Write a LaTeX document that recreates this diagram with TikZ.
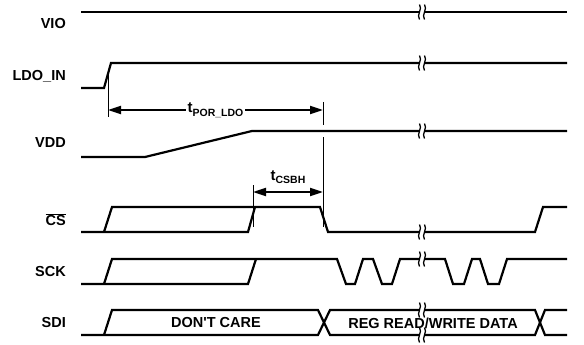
\documentclass[tikz,border=0pt]{standalone}
\usepackage{fontspec}
\setmainfont{Liberation Sans}
\usetikzlibrary{arrows.meta}
% break mark on a signal line
\newcommand{\brk}[2]{%
  \fill[white] (#1-2.5,#2-2.4) rectangle (#1+2.5,#2+2.4);
  \draw[bk] (#1-2.5,#2-7.5) .. controls (#1+1,#2-3) and (#1-6,#2+3) .. (#1-2.5,#2+7.5);
  \draw[bk] (#1+2.5,#2-7.5) .. controls (#1+6,#2-3) and (#1-1,#2+3) .. (#1+2.5,#2+7.5);}

\begin{document}
\begin{tikzpicture}[x=1pt,y=-1pt,
  sig/.style={line width=2.2pt,line join=miter},
  mk/.style={line width=1pt},
  bk/.style={line width=1.3pt},
  ar/.style={{Triangle[length=13pt,width=8pt]}-{Triangle[length=13pt,width=8pt]},line width=2pt},
  lbl/.style={font=\fontsize{14.5}{16}\selectfont\bfseries,anchor=east,inner sep=0pt},
  txt/.style={font=\fontsize{14.5}{16}\selectfont\bfseries,inner sep=1pt}]
\useasboundingbox (0,0) rectangle (584,345);
% names
\node[lbl] (vio) at (66,24) {VIO};
\node[lbl] (ldo) at (66,76) {LDO\_IN};
\node[lbl] (vdd) at (66,143) {VDD};
\node[lbl] (cs) at (66,220) {$\overline{\mbox{CS}}$};
\node[lbl] (sck) at (66,272) {SCK};
\node[lbl] (sdi) at (66,323) {SDI};
% waveforms
\draw[sig] (81,12) -- (567,12);
\draw[sig] (81,88) -- (104,88) -- (111,63) -- (567,63);
\draw[sig] (81,157) -- (145,157) -- (252,131) -- (567,131);
\draw[sig] (81,232) -- (248,232) -- (255,207);
\draw[sig] (104,232) -- (112,207) -- (320,207) -- (328,232) -- (535,232) -- (543,207) -- (567,207);
\draw[sig] (81,284) -- (248,284) -- (256,259);
\draw[sig] (104,284) -- (112,259) -- (337,259) -- (346,284) -- (355,284) -- (363,259) -- (373,259)
  -- (382,284) -- (392,284) -- (400,259) -- (445,259) -- (453,284) -- (464,284) -- (472,259)
  -- (480,259) -- (488,284) -- (499,284) -- (507,259) -- (567,259);
\draw[sig] (81,335) -- (318,335) -- (330,310) -- (535,310) -- (545,335) -- (567,335);
\draw[sig] (104,335) -- (112,310) -- (318,310) -- (330,335) -- (535,335) -- (545,310) -- (567,310);
\node[txt] (dc) at (216,323) {DON\textquotesingle T CARE};
\node[txt] (rw) at (433,323) {REG READ/WRITE DATA};
% breaks
\foreach \y in {12,63,131,232,259,310,335}
  \brk{422}{\y}
% timing marks
\coordinate (p1) at (108,75);
\coordinate (p2) at (108,117);
\coordinate (q1) at (323,102);
\coordinate (q2) at (323,125);
\coordinate (q3) at (323,137);
\coordinate (q4) at (323,227);
\coordinate (c1) at (253,185);
\coordinate (c2) at (253,227);
\draw[mk] (p1) -- (p2);
\draw[mk] (q1) -- (q2);
\draw[mk] (q3) -- (q4);
\draw[mk] (c1) -- (c2);
\draw[ar] (108,110) -- node[fill=white,inner sep=2pt,font=\bfseries] (tpor)
  {\fontsize{15}{16}\selectfont t\raisebox{-3.5pt}{\fontsize{10.5}{12}\selectfont POR\_LDO}} (323,110);
\draw[ar] (253,192) -- (323,192);
\node[font=\bfseries,inner sep=0pt] (tcs) at (288,177)
  {\fontsize{15}{16}\selectfont t\raisebox{-3.5pt}{\fontsize{10.5}{12}\selectfont CSBH}};
\end{tikzpicture}
\end{document}
